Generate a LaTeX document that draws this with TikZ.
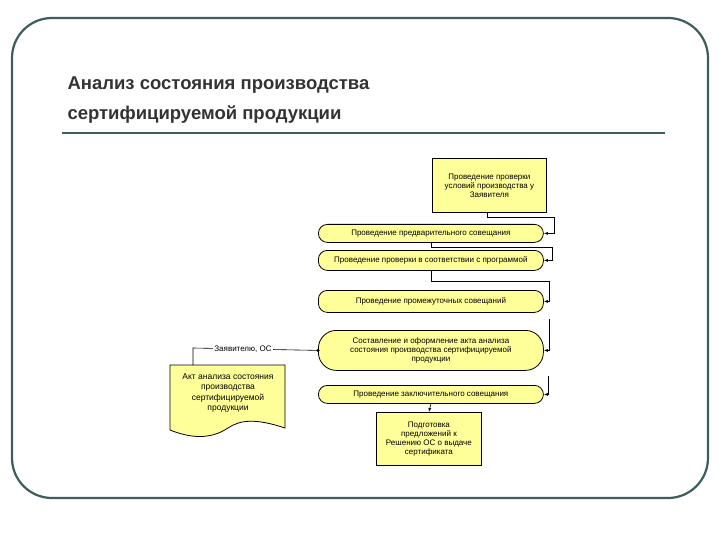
\documentclass[tikz,border=0pt]{standalone}
\usepackage{fontspec}
\setmainfont{Liberation Sans}
\usetikzlibrary{arrows.meta,calc}
\definecolor{frm}{HTML}{3E5E5E}
\definecolor{yel}{HTML}{FFFF99}
\tikzset{
 pill/.style={draw,thick,fill=yel,rounded corners=9pt,minimum width=225pt,inner sep=1pt,font=\fontsize{8}{9}\selectfont,align=center,anchor=north west},
 rbox/.style={draw,thick,fill=yel,inner sep=1pt,font=\fontsize{8}{9}\selectfont,align=center},
 con/.style={-{Latex[length=4pt,width=3pt]},semithick}
}
\begin{document}
\begin{tikzpicture}[x=1pt,y=-1pt]
\useasboundingbox (0,0) rectangle (720,540);
\fill[white] (0,0) rectangle (720,540);
\draw[frm,line width=2.2pt,rounded corners=40pt] (12,18) rectangle (708,498);
\node[anchor=west,font=\bfseries\fontsize{18.5}{30}\selectfont,text=black!80,align=left] (title) at (64,100) {Анализ состояния производства\\сертифицируемой продукции};
\draw[frm,line width=2pt] (62,133) -- (665,133);
\node[rbox,minimum width=114pt,minimum height=54pt,anchor=north west] (b1) at (432,158) {Проведение проверки\\условий производства у\\Заявителя};
\node[pill,minimum height=18pt] (p1) at (318,224) {Проведение предварительного совещания};
\node[pill,minimum height=20pt] (p2) at (318,250) {Проведение проверки в соответствии с программой};
\node[pill,minimum height=22pt] (p3) at (318,290) {Проведение промежуточных совещаний};
\node[pill,minimum height=40pt,rounded corners=18pt] (p4) at (318,330) {Составление и оформление акта анализа\\состояния производства сертифицируемой\\продукции};
\node[pill,minimum height=18pt] (p5) at (318,385) {Проведение заключительного совещания};
\node[rbox,minimum width=105pt,minimum height=53pt,anchor=north west] (b2) at (376,412) {Подготовка\\предложений к\\Решению ОС о выдаче\\сертификата};
\draw[thick,fill=yel] (170,365) -- (285,365) -- (285,428) .. controls (255,418) and (240,420) .. (228,428) .. controls (210,440) and (190,438) .. (170,430) -- cycle;
\node[font=\fontsize{8.5}{10.5}\selectfont,align=center] (doc) at (228,393) {Акт анализа состояния\\производства\\сертифицируемой\\продукции};
\coordinate (dtop) at (193,365);
\draw[con] ($(b1.south east)+(-60,0)$) |- ++(67,5) |- (p1.east);
\draw[con] (p1.south) |- ++(121,4) |- (p2.east);
\draw[con] (p2.south) |- ++(118,10) |- (p3.east);
\draw[con] ($(p3.south)+(118,6)$) |- (p4.east);
\draw[con] (548,376) |- (p5.east);
\draw[con] (p5.south) -- (b2.north);
\fill (p4.west) circle (1.8pt);
\draw[semithick] (p4.west) -- (193,348) node[pos=0.6,fill=white,inner sep=1pt,font=\fontsize{8}{9}\selectfont] (lab) {Заявителю, ОС} -- (dtop);
\end{tikzpicture}
\end{document}
